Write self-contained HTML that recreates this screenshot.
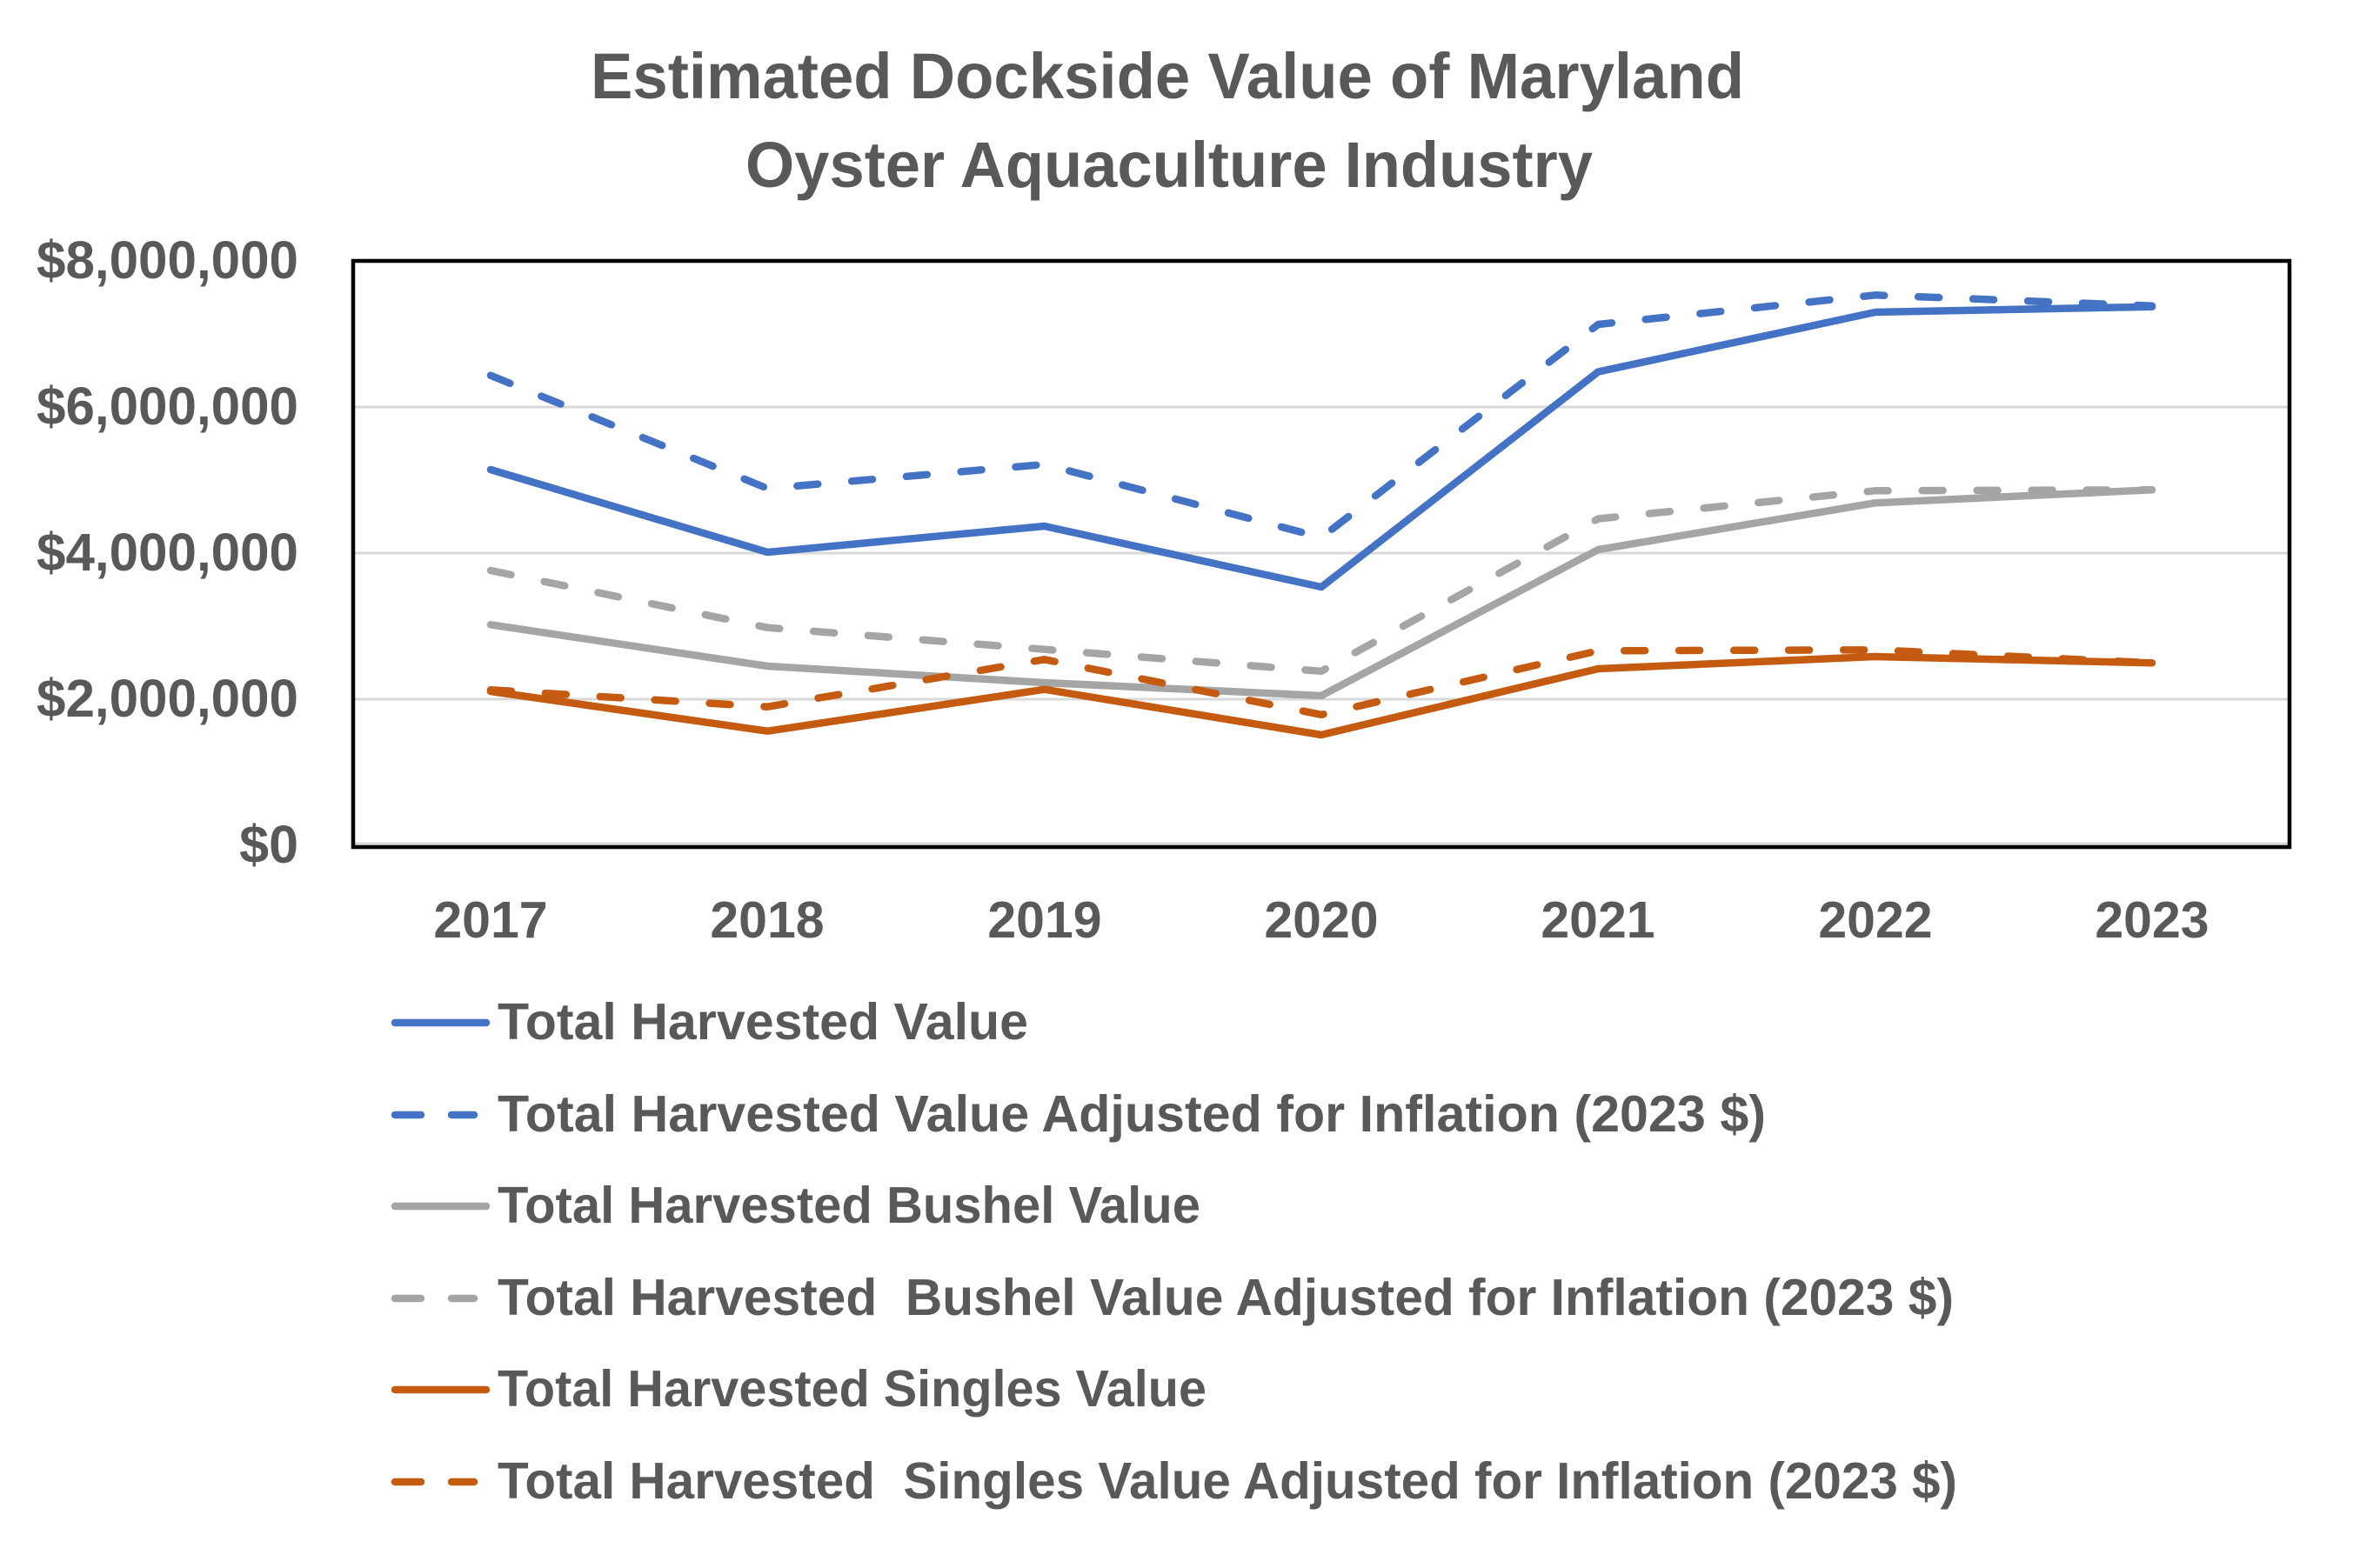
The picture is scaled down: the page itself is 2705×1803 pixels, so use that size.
<!DOCTYPE html>
<html>
<head>
<meta charset="utf-8">
<style>
  html, body { margin: 0; padding: 0; background: #ffffff; }
  svg { display: block; }
  text { font-family: "Liberation Sans", Arial, sans-serif; font-weight: bold; fill: #595959; }
</style>
</head>
<body>
<svg width="2705" height="1803" viewBox="0 0 2705 1803" xmlns="http://www.w3.org/2000/svg">
  <rect x="0" y="0" width="2705" height="1803" fill="#ffffff"/>

  <!-- Title -->
  <text x="679" y="113" font-size="74" textLength="1326" lengthAdjust="spacingAndGlyphs">Estimated Dockside Value of Maryland</text>
  <text x="857" y="215" font-size="74" textLength="974" lengthAdjust="spacingAndGlyphs">Oyster Aquaculture Industry</text>

  <!-- Gridlines -->
  <g stroke="#D9D9D9" stroke-width="3">
    <line x1="406" y1="468" x2="2632" y2="468"/>
    <line x1="406" y1="636" x2="2632" y2="636"/>
    <line x1="406" y1="804" x2="2632" y2="804"/>
    <line x1="406" y1="970" x2="2632" y2="970"/>
  </g>

  <!-- Plot border -->
  <rect x="406" y="300" width="2226" height="674" fill="none" stroke="#000000" stroke-width="4.5"/>

  <!-- Y axis labels -->
  <g font-size="61" text-anchor="end">
    <text x="343" y="320" textLength="301" lengthAdjust="spacingAndGlyphs">$8,000,000</text>
    <text x="343" y="488" textLength="301" lengthAdjust="spacingAndGlyphs">$6,000,000</text>
    <text x="343" y="656" textLength="301" lengthAdjust="spacingAndGlyphs">$4,000,000</text>
    <text x="343" y="824" textLength="301" lengthAdjust="spacingAndGlyphs">$2,000,000</text>
    <text x="343" y="992">$0</text>
  </g>

  <!-- X axis labels -->
  <g font-size="59" text-anchor="middle">
    <text x="564" y="1078">2017</text>
    <text x="882" y="1078">2018</text>
    <text x="1201" y="1078">2019</text>
    <text x="1519" y="1078">2020</text>
    <text x="1837" y="1078">2021</text>
    <text x="2156" y="1078">2022</text>
    <text x="2474" y="1078">2023</text>
  </g>

  <!-- Series -->
  <g fill="none" stroke-width="8.5" stroke-linejoin="round" stroke-linecap="round">
    <!-- Total Harvested Value -->
    <polyline stroke="#4472C4" points="564,540 882.3,635 1200.7,605 1519,675 1837.3,427.5 2155.7,359 2474,352.7"/>
    <!-- Adjusted -->
    <polyline stroke="#4472C4" stroke-dasharray="24 39" points="564,431.7 882.3,561.7 1200.7,534 1519,618 1837.3,373 2155.7,339.3 2474,351.7"/>
    <!-- Bushel -->
    <polyline stroke="#A5A5A5" points="564,718.3 882.3,766 1200.7,785 1519,800 1837.3,632 2155.7,578.3 2474,563.3"/>
    <!-- Bushel adjusted -->
    <polyline stroke="#A5A5A5" stroke-dasharray="24 39" points="564,656 882.3,721.7 1200.7,746.7 1519,771.8 1837.3,596.5 2155.7,564.3 2474,563.3"/>
    <!-- Singles -->
    <polyline stroke="#C55A11" points="564,795 882.3,840.7 1200.7,792.7 1519,845 1837.3,769 2155.7,755 2474,762.3"/>
    <!-- Singles adjusted -->
    <polyline stroke="#C55A11" stroke-dasharray="24 39" points="564,793.3 882.3,812.7 1200.7,758.3 1519,821.8 1837.3,748.3 2155.7,747.3 2474,762.3"/>
  </g>

  <!-- Legend -->
  <g stroke-width="8.5" stroke-linecap="round">
    <line x1="454" y1="1176" x2="559" y2="1176" stroke="#4472C4"/>
    <line x1="454" y1="1282" x2="484" y2="1282" stroke="#4472C4"/>
    <line x1="519" y1="1282" x2="545" y2="1282" stroke="#4472C4"/>
    <line x1="454" y1="1387" x2="559" y2="1387" stroke="#A5A5A5"/>
    <line x1="454" y1="1493" x2="484" y2="1493" stroke="#A5A5A5"/>
    <line x1="519" y1="1493" x2="545" y2="1493" stroke="#A5A5A5"/>
    <line x1="454" y1="1598" x2="559" y2="1598" stroke="#C55A11"/>
    <line x1="454" y1="1704" x2="484" y2="1704" stroke="#C55A11"/>
    <line x1="519" y1="1704" x2="545" y2="1704" stroke="#C55A11"/>
  </g>
  <g font-size="59" style="white-space:pre">
    <text x="572" y="1195" textLength="610" lengthAdjust="spacingAndGlyphs">Total Harvested Value</text>
    <text x="572" y="1301" textLength="1458" lengthAdjust="spacingAndGlyphs">Total Harvested Value Adjusted for Inflation (2023 $)</text>
    <text x="572" y="1406" textLength="808" lengthAdjust="spacingAndGlyphs">Total Harvested Bushel Value</text>
    <text x="572" y="1512" textLength="1674" lengthAdjust="spacingAndGlyphs" xml:space="preserve">Total Harvested  Bushel Value Adjusted for Inflation (2023 $)</text>
    <text x="572" y="1617" textLength="815" lengthAdjust="spacingAndGlyphs">Total Harvested Singles Value</text>
    <text x="572" y="1723" textLength="1678" lengthAdjust="spacingAndGlyphs" xml:space="preserve">Total Harvested  Singles Value Adjusted for Inflation (2023 $)</text>
  </g>
</svg>
</body>
</html>
